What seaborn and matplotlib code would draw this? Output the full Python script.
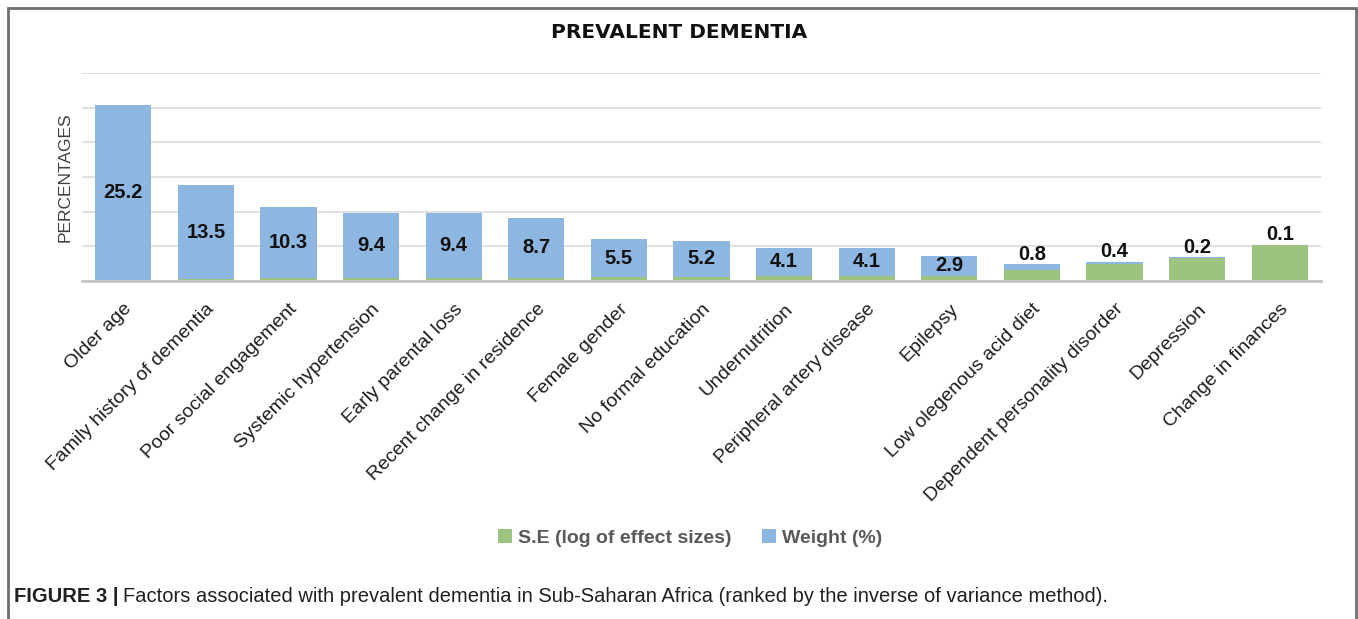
import matplotlib
matplotlib.use("Agg")
import matplotlib.pyplot as plt
import seaborn as sns
import pandas as pd
from matplotlib.patches import Rectangle, Patch

categories = [
    "Older age", "Family history of dementia", "Poor social engagement",
    "Systemic hypertension", "Early parental loss", "Recent change in residence",
    "Female gender", "No formal education", "Undernutrition",
    "Peripheral artery disease", "Epilepsy", "Low olegenous acid diet",
    "Dependent personality disorder", "Depression", "Change in finances",
]
weight = [25.2, 13.5, 10.3, 9.4, 9.4, 8.7, 5.5, 5.2, 4.1, 4.1, 2.9, 0.8, 0.4, 0.2, 0.1]
se = [0.15, 0.3, 0.4, 0.45, 0.45, 0.45, 0.55, 0.6, 0.7, 0.7, 0.75, 1.6, 2.4, 3.3, 5.15]

GREEN = "#9cc47e"
BLUE = "#8db7e1"

sns.set_theme(style="white")
plt.rcParams["font.family"] = ["Liberation Sans", "DejaVu Sans"]

df = pd.DataFrame({"cat": categories, "weight": weight, "se": se})
df["total"] = df["weight"] + df["se"]

W, H = 1358, 619
fig = plt.figure(figsize=(W / 100, H / 100), dpi=100)
ax = fig.add_axes([82 / W, 1 - 281 / H, 1239 / W, 208 / H])

sns.barplot(data=df, x="cat", y="total", color=BLUE, width=0.68,
            saturation=1, ax=ax, zorder=3, linewidth=0, edgecolor="none")
sns.barplot(data=df, x="cat", y="se", color=GREEN, width=0.68,
            saturation=1, ax=ax, zorder=4, linewidth=0, edgecolor="none")

ax.set_ylim(0, 30)
ax.set_yticks([0, 5, 10, 15, 20, 25, 30])
ax.set_yticklabels([])
ax.tick_params(axis="y", length=0)
ax.grid(axis="y", color="#dedede", linewidth=1.3, zorder=0)
ax.set_axisbelow(True)
for s in ["top", "right", "left"]:
    ax.spines[s].set_visible(False)
ax.spines["bottom"].set_color("#c4c4c4")
ax.spines["bottom"].set_linewidth(2)
ax.spines["bottom"].set_zorder(5)

ax.set_xlabel("")
ax.set_ylabel("PERCENTAGES", fontsize=12.5, color="#404040", labelpad=3)
ax.tick_params(axis="x", length=0, pad=14)
plt.setp(ax.get_xticklabels(), rotation=45, ha="right", rotation_mode="anchor",
         fontsize=14, color="#1e1e1e")

for i, (w, s) in enumerate(zip(weight, se)):
    if w >= 2:
        ax.text(i, s + w / 2, f"{w}", ha="center", va="center", fontsize=14.5,
                fontweight="bold", color="#111111", zorder=6)
    else:
        ax.annotate(f"{w}", xy=(i, s + w), xytext=(0, 7), textcoords="offset points",
                    ha="center", va="center", fontsize=14.5, fontweight="bold",
                    color="#111111", zorder=6)

fig.text(0.5, 1 - 32 / H, "PREVALENT DEMENTIA", ha="center", va="center",
         fontsize=14.5, fontweight="bold", color="#111111", family=["DejaVu Sans"])

handles = [Patch(facecolor=GREEN, edgecolor="none"), Patch(facecolor=BLUE, edgecolor="none")]
leg = fig.legend(handles, ["S.E (log of effect sizes)", "Weight (%)"], loc="center",
                 bbox_to_anchor=(690 / W, 1 - 538 / H), ncol=2, frameon=False,
                 handlelength=0.7, handleheight=0.7, handletextpad=0.3,
                 columnspacing=1.6, prop={"size": 14, "weight": "bold"})
for t in leg.get_texts():
    t.set_color("#595959")

fig.text(14 / W, 1 - 597 / H, "FIGURE 3 |", ha="left", va="center", fontsize=14.5,
         fontweight="bold", color="#231f20")
fig.text(123 / W, 1 - 597 / H,
         "Factors associated with prevalent dementia in Sub-Saharan Africa (ranked by the inverse of variance method).",
         ha="left", va="center", fontsize=14.5, color="#231f20")

fig.patches.append(Rectangle((8 / W, -0.05), (1356 - 8) / W, 1.05 - 8 / H,
                             transform=fig.transFigure, fill=False,
                             edgecolor="#6e6e6e", linewidth=2))

fig.savefig("out.png", dpi=100)
